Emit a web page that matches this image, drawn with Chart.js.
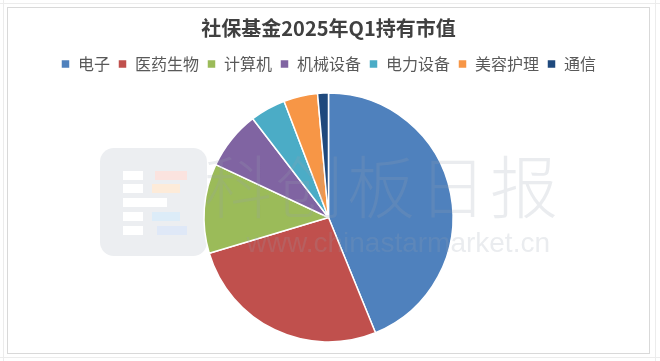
<!DOCTYPE html>
<html>
<head>
<meta charset="utf-8">
<script src="https://cdn.jsdelivr.net/npm/chart.js@4.4.1/dist/chart.umd.min.js"></script>
<style>
  html, body { margin: 0; padding: 0; background: #ffffff; }
  #wrap { width: 660px; height: 361px; position: relative; }
</style>
</head>
<body>
<div id="wrap"><canvas id="c" width="660" height="361"></canvas></div>
<script>
// Data (share of holdings market value, %)
const categories = ["电子", "医药生物", "计算机", "机械设备", "电力设备", "美容护理", "通信"];
const values = [43.8, 26.5, 11.6, 7.6, 4.6, 4.4, 1.4];
const colors = ["#4F81BD", "#C0504D", "#9BBB59", "#8064A2", "#4BACC6", "#F79646", "#1F497D"];
const titleText = "社保基金2025年Q1持有市值";
const watermarkCn = "科创板日报";
const watermarkUrl = "www.chinastarmarket.cn";

const framePlugin = {
  id: 'frame',
  beforeDraw(chart) {
    const ctx = chart.ctx;
    ctx.save();
    ctx.fillStyle = '#ffffff';
    ctx.fillRect(0, 0, chart.width, chart.height);
    // faint sheet grid lines
    ctx.strokeStyle = '#ececec';
    ctx.lineWidth = 1;
    ctx.beginPath();
    ctx.moveTo(0, 3.5); ctx.lineTo(660, 3.5);
    ctx.moveTo(655.5, 0); ctx.lineTo(655.5, 361);
    ctx.moveTo(3.5, 0); ctx.lineTo(3.5, 361);
    ctx.moveTo(0, 357.5); ctx.lineTo(660, 357.5);
    ctx.stroke();
    // chart frame
    ctx.strokeStyle = '#d9d9d9';
    ctx.strokeRect(7.5, 7.5, 642, 346);
    // logo watermark
    const r = 14, x = 100, y = 148, w = 107, h = 108;
    ctx.fillStyle = '#eceef1';
    ctx.beginPath();
    ctx.moveTo(x + r, y);
    ctx.arcTo(x + w, y, x + w, y + h, r);
    ctx.arcTo(x + w, y + h, x, y + h, r);
    ctx.arcTo(x, y + h, x, y, r);
    ctx.arcTo(x, y, x + w, y, r);
    ctx.closePath();
    ctx.fill();
    ctx.fillStyle = '#ffffff';
    ctx.fillRect(123, 171, 20, 9);
    ctx.fillRect(123, 184, 20, 9);
    ctx.fillRect(123, 198, 44, 9);
    ctx.fillRect(123, 212, 20, 9);
    ctx.fillRect(123, 226, 20, 9);
    ctx.fillStyle = '#fbe3df';
    ctx.fillRect(155, 171, 32, 9);
    ctx.fillStyle = '#fdebd9';
    ctx.fillRect(152, 184, 28, 9);
    ctx.fillStyle = '#dcecf8';
    ctx.fillRect(152, 212, 28, 9);
    ctx.fillStyle = '#dfe8f7';
    ctx.fillRect(157, 226, 30, 9);
    ctx.restore();
  },
  afterDatasetsDraw(chart) {
    const ctx = chart.ctx;
    ctx.save();
    ctx.fillStyle = 'rgba(150,160,175,0.2)';
    ctx.textBaseline = 'alphabetic';
    ctx.textAlign = 'center';
    ctx.font = '300 68px "Noto Sans CJK SC"';
    const chars = Array.from(watermarkCn);
    chars.forEach((ch, i) => ctx.fillText(ch, 238 + i * 71.5, 213));
    ctx.font = '28px "Liberation Sans"';
    ctx.textAlign = 'right';
    ctx.fillText(watermarkUrl, 550, 252);
    ctx.restore();
  }
};

new Chart(document.getElementById('c'), {
  type: 'pie',
  data: {
    labels: categories,
    datasets: [{
      data: values,
      backgroundColor: colors,
      borderColor: '#ffffff',
      borderWidth: 1.5,
      hoverOffset: 0,
      radius: 124.5
    }]
  },
  options: {
    responsive: false,
    animation: false,
    layout: { padding: { top: 0, bottom: 8, left: 0, right: 3 } },
    plugins: {
      title: {
        display: true,
        text: titleText,
        color: '#404040',
        font: { family: '"Noto Sans CJK SC"', size: 20, weight: 'bold', lineHeight: 1.2 },
        padding: { top: 16, bottom: 8 }
      },
      legend: {
        display: true,
        position: 'top',
        labels: {
          boxWidth: 9,
          boxHeight: 9,
          padding: 8,
          color: '#595959',
          font: { family: '"Noto Sans CJK SC"', size: 16 }
        }
      },
      tooltip: { enabled: false }
    }
  },
  plugins: [framePlugin]
});
</script>
</body>
</html>
